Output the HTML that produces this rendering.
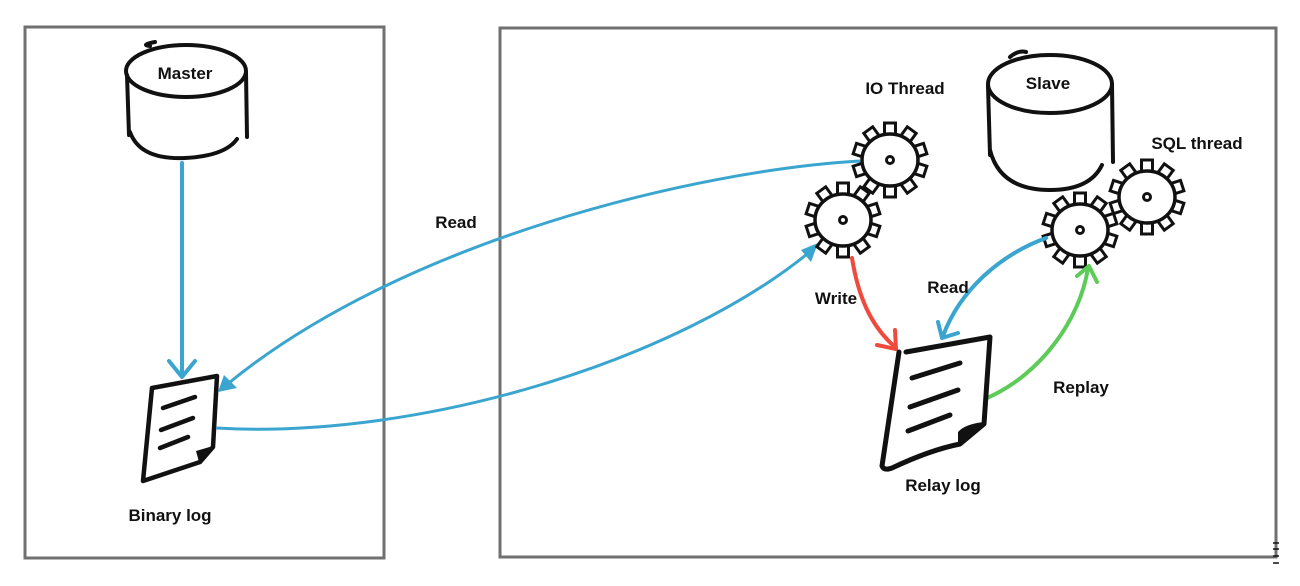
<!DOCTYPE html>
<html><head><meta charset="utf-8"><style>
html,body{margin:0;padding:0;background:#fff;}
svg{display:block;}
text{font-family:"Liberation Sans",sans-serif;font-weight:bold;font-size:17px;fill:#111;text-anchor:middle;}
</style></head><body>
<svg width="1300" height="586" viewBox="0 0 1300 586" xmlns="http://www.w3.org/2000/svg">
<defs>
<g id="gear">
<g fill="#fff" stroke="#111" stroke-width="3">
<rect x="-5.5" y="-37" width="11" height="13" transform="rotate(0)"/>
<rect x="-5.5" y="-37" width="11" height="13" transform="rotate(36)"/>
<rect x="-5.5" y="-37" width="11" height="13" transform="rotate(72)"/>
<rect x="-5.5" y="-37" width="11" height="13" transform="rotate(108)"/>
<rect x="-5.5" y="-37" width="11" height="13" transform="rotate(144)"/>
<rect x="-5.5" y="-37" width="11" height="13" transform="rotate(180)"/>
<rect x="-5.5" y="-37" width="11" height="13" transform="rotate(216)"/>
<rect x="-5.5" y="-37" width="11" height="13" transform="rotate(252)"/>
<rect x="-5.5" y="-37" width="11" height="13" transform="rotate(288)"/>
<rect x="-5.5" y="-37" width="11" height="13" transform="rotate(324)"/>
</g>
<ellipse cx="0" cy="0" rx="28" ry="26" fill="#fff" stroke="#111" stroke-width="3.5"/>
<circle cx="0" cy="0" r="3.5" fill="none" stroke="#111" stroke-width="3"/>
</g>
</defs>

<!-- boxes -->
<rect x="25" y="27" width="359" height="531" fill="none" stroke="#707070" stroke-width="3"/>
<rect x="500" y="28" width="776" height="529" fill="none" stroke="#707070" stroke-width="3"/>
<g stroke="#111" stroke-width="1.5">
<line x1="1273" y1="543" x2="1279" y2="543"/>
<line x1="1273" y1="549" x2="1279" y2="549"/>
<line x1="1273" y1="556" x2="1279" y2="556"/>
<line x1="1273" y1="563" x2="1279" y2="563"/>
</g>

<!-- Master cylinder -->
<g fill="none" stroke="#111" stroke-width="4" stroke-linecap="round">
<ellipse cx="186" cy="71" rx="60" ry="26"/>
<path d="M150 46 Q140 45 155 42"/>
<path d="M127 75 L129 135"/>
<path d="M246 72 L247 137"/>
<path d="M130 132 Q140 160 185 158 Q225 156 237 139"/>
</g>
<text x="185" y="79">Master</text>

<!-- master -> binary log -->
<g fill="none" stroke="#3aa5cf" stroke-width="4" stroke-linecap="round" stroke-linejoin="round">
<line x1="182" y1="163" x2="182" y2="376"/>
<polyline points="169,361 182,377 195,361"/>
</g>

<!-- Binary log document -->
<g fill="none" stroke="#111" stroke-width="4.5" stroke-linecap="round" stroke-linejoin="round">
<path d="M152 388 L217 376 L213 447 L200 462 L143 481 Z"/>
<line x1="163" y1="408" x2="195" y2="397"/>
<line x1="161" y1="430" x2="193" y2="418"/>
<line x1="160" y1="448" x2="188" y2="437"/>
</g>
<path d="M213 446 L199 462 L196 451 Z" fill="#111"/>
<text x="170" y="521">Binary log</text>

<!-- Read arrow (IO thread -> binary log) -->
<path d="M860 161 C700 170 400 240 224 387" fill="none" stroke="#3aa5cf" stroke-width="3"/>
<path d="M218 392 L224 375 L237 388 Z" fill="#3aa5cf"/>
<text x="456" y="228">Read</text>

<!-- binary log -> IO thread -->
<path d="M216 428 C420 440 680 360 812 250" fill="none" stroke="#3aa5cf" stroke-width="3"/>
<path d="M818 243 L801 250 L811 262 Z" fill="#3aa5cf"/>

<!-- Slave cylinder -->
<g fill="none" stroke="#111" stroke-width="4" stroke-linecap="round">
<ellipse cx="1050" cy="84" rx="62" ry="29"/>
<path d="M1010 57 Q1018 50 1026 52"/>
<path d="M988 86 L990 155"/>
<path d="M1112 84 L1113 162"/>
<path d="M990 150 Q1000 190 1050 190 Q1090 190 1102 165"/>
</g>
<text x="1048" y="89">Slave</text>

<!-- gears -->
<use href="#gear" x="890" y="160"/>
<use href="#gear" x="843" y="220"/>
<use href="#gear" x="1147" y="197"/>
<use href="#gear" x="1080" y="230"/>
<text x="905" y="94">IO Thread</text>
<text x="1197" y="149">SQL thread</text>

<!-- Write red -->
<g fill="none" stroke="#f04a3c" stroke-width="4" stroke-linecap="round" stroke-linejoin="round">
<path d="M852 258 C858 295 870 325 894 346"/>
<polyline points="877,345 896,349 895,330"/>
</g>
<text x="836" y="304">Write</text>

<!-- Read blue right -->
<g fill="none" stroke="#3aa5cf" stroke-width="4" stroke-linecap="round" stroke-linejoin="round">
<path d="M1046 238 C1000 255 960 290 943 336"/>
<polyline points="938,322 942,338 958,333"/>
</g>
<text x="948" y="293">Read</text>

<!-- Replay green -->
<g fill="none" stroke="#5ccb58" stroke-width="4" stroke-linecap="round" stroke-linejoin="round">
<path d="M987 398 C1040 375 1080 320 1088 268"/>
<polyline points="1077,276 1089,266 1097,282"/>
</g>
<text x="1081" y="393">Replay</text>

<!-- Relay log document -->
<g fill="none" stroke="#111" stroke-width="5" stroke-linecap="round" stroke-linejoin="round">
<path d="M899 352 L882 466 Q884 471 892 468 Q930 450 960 444 L984 424 L990 337 L906 352"/>
<line x1="912" y1="378" x2="960" y2="363"/>
<line x1="910" y1="407" x2="958" y2="390"/>
<line x1="908" y1="431" x2="950" y2="415"/>
</g>
<path d="M984 422 L958 447 L958 432 Q965 424 984 422 Z" fill="#111"/>
<text x="943" y="491">Relay log</text>
</svg>
</body></html>
